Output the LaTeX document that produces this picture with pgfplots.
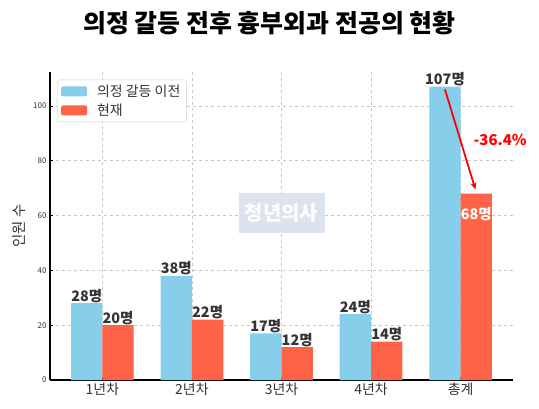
\documentclass[border=0pt]{standalone}
\usepackage{fontspec}
\setmainfont{Noto Sans CJK KR}
\usepackage{pgfplots}
\pgfplotsset{compat=1.18}
\usetikzlibrary{arrows.meta}
\definecolor{skyb}{HTML}{87CEEB}
\definecolor{tomat}{HTML}{FF6347}
\definecolor{lbl}{HTML}{333333}
\definecolor{wmbox}{HTML}{DCE3EC}
\begin{document}
\begin{tikzpicture}[x=1bp,y=1bp]
\useasboundingbox (0,0) rectangle (539,408);
\node[font=\fontsize{25}{28}\selectfont\bfseries] at (269.5,385) {의정 갈등 전후 흉부외과 전공의 현황};
\begin{axis}[
  at={(50bp,28bp)}, anchor=south west,
  scale only axis, width=463bp, height=308bp,
  xmin=-0.585, xmax=4.585, ymin=0, ymax=112.35,
  axis x line*=bottom, axis y line*=left,
  axis line style={black, line width=1.1bp, -},
  xtick={0,1,2,3,4},
  xticklabels={1년차,2년차,3년차,4년차,총계},
  ytick={0,20,40,60,80,100},
  tick align=inside, major tick length=3bp,
  tick style={black, line width=0.6bp},
  grid=major, grid style={dashed, black!22, line width=0.5bp},
  /pgf/number format/assume math mode=true,
  y tick label style={font=\fontsize{8}{9}\selectfont, text=lbl},
  x tick label style={font=\fontsize{14}{16}\selectfont, text=lbl, yshift=1bp},
  ylabel={인원 수}, ylabel style={font=\fontsize{14.5}{16}\selectfont, text=lbl, yshift=1bp},
  legend style={at={(0.015,0.975)}, anchor=north west, font=\fontsize{14}{16}\selectfont,
    draw=black!20, rounded corners=2bp, row sep=2bp, inner xsep=4bp, inner ysep=3bp},
  legend cell align=left,
  legend image code/.code={\fill[#1] (0bp,-5bp) rectangle (26bp,5bp); \path (34bp,0bp);},
  legend style={text=lbl},
  clip=false,
]
\addplot[ybar, bar width=0.35, bar shift=-0.175, fill=skyb, draw=none]
  coordinates {(0,28) (1,38) (2,17) (3,24) (4,107)};
\addlegendentry{의정 갈등 이전}
\addplot[ybar, bar width=0.35, bar shift=0.175, fill=tomat, draw=none]
  coordinates {(0,20) (1,22) (2,12) (3,14) (4,68)};
\addlegendentry{현재}
% value labels
\begin{scope}[every node/.style={font=\fontsize{14.5}{16}\selectfont\bfseries, text=lbl, anchor=south, inner sep=0.5bp}]
\node at (axis cs:-0.175,28) {28명};
\node at (axis cs:0.175,20) {20명};
\node at (axis cs:0.825,38) {38명};
\node at (axis cs:1.175,22) {22명};
\node at (axis cs:1.825,17) {17명};
\node at (axis cs:2.175,12) {12명};
\node at (axis cs:2.825,24) {24명};
\node at (axis cs:3.175,14) {14명};
\node at (axis cs:3.825,107) {107명};
\end{scope}
\node[font=\fontsize{14.5}{16}\selectfont\bfseries, text=white] at (axis cs:4.175,60.5) {68명};
% watermark
\node[fill=wmbox, text=white!96!wmbox, font=\fontsize{20}{22}\selectfont\bfseries,
  minimum width=86bp, minimum height=40bp, inner sep=1bp] at (axis cs:2,61) {청년의사};
% arrow
\draw[red, line width=1.8bp, -{Stealth[length=7bp,width=6bp]}] (axis cs:3.825,106) -- (axis cs:4.165,69.5);
\node[red, font=\fontsize{15}{17}\selectfont\bfseries, anchor=east, inner sep=0pt] at (axis cs:4.74,87.5) {-36.4\%};
\end{axis}
\end{tikzpicture}
\end{document}
